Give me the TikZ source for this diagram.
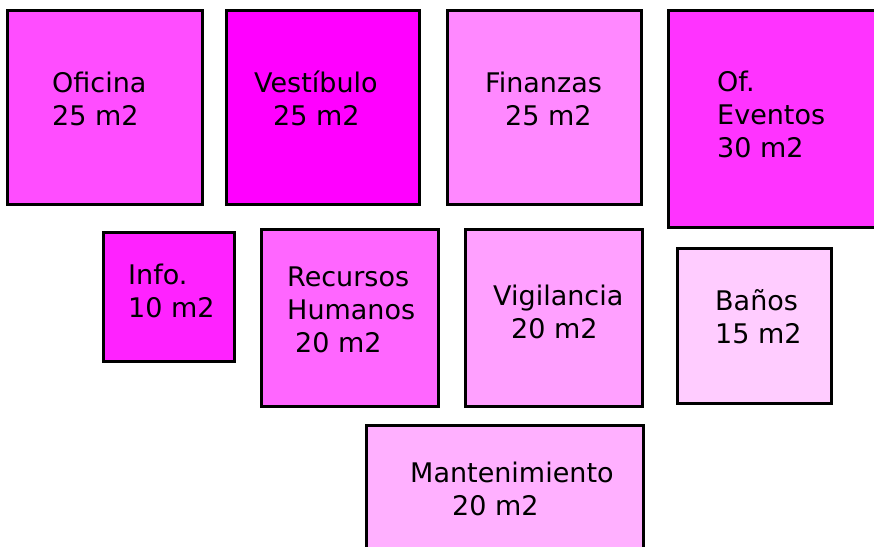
\documentclass[tikz,border=0pt]{standalone}
\usepackage{fontspec}
\setmainfont{DejaVu Sans}
\definecolor{oficinaC}{HTML}{FF4DFF}
\definecolor{vestibuloC}{HTML}{FF00FF}
\definecolor{finanzasC}{HTML}{FF88FF}
\definecolor{eventosC}{HTML}{FF33FF}
\definecolor{infoC}{HTML}{FF22FF}
\definecolor{rrhhC}{HTML}{FF66FF}
\definecolor{vigilanciaC}{HTML}{FFA0FF}
\definecolor{banosC}{HTML}{FFCCFF}
\definecolor{mantenC}{HTML}{FFB0FF}
\tikzset{room/.style={draw=black,line width=3pt},
  roomlbl/.style={anchor=base west,align=left,inner sep=0pt,font=\fontsize{27}{33}\selectfont}}
\begin{document}
\begin{tikzpicture}[x=1pt,y=-1pt]
\clip (0,0) rectangle (874,546);
% fila de arriba
\draw[room,fill=oficinaC] (7,10) rectangle (202,204);
\draw[room,fill=vestibuloC] (226,10) rectangle (419,204);
\draw[room,fill=finanzasC] (447,10) rectangle (641,204);
\draw[room,fill=eventosC] (668,10) rectangle (890,227);
% fila del medio
\draw[room,fill=infoC] (103,232) rectangle (234,361);
\draw[room,fill=rrhhC] (261,229) rectangle (438,406);
\draw[room,fill=vigilanciaC] (465,229) rectangle (642,406);
\draw[room,fill=banosC] (677,248) rectangle (831,403);
% abajo
\draw[room,fill=mantenC] (366,425) rectangle (643,570);

% el ancla base queda en la ultima linea
\node[roomlbl] (oficina) at (52,125) {Oficina\\25 m2};
\node[roomlbl] (vestibulo) at (254,125) {Vestíbulo\\\hspace*{19pt}25 m2};
\node[roomlbl] (finanzas) at (485,125) {Finanzas\\\hspace*{20pt}25 m2};
\node[roomlbl] (eventos) at (717,157) {Of.\\Eventos\\30 m2};
\node[roomlbl] (info) at (128,317) {Info.\\10 m2};
\node[roomlbl] (rrhh) at (287,352) {Recursos\\Humanos\\\hspace*{8pt}20 m2};
\node[roomlbl] (vigilancia) at (493,338) {Vigilancia\\\hspace*{18pt}20 m2};
\node[roomlbl] (banos) at (715,343) {Baños\\15 m2};
\node[roomlbl] (manten) at (410,515) {Mantenimiento\\\hspace*{42pt}20 m2};
\end{tikzpicture}
\end{document}
